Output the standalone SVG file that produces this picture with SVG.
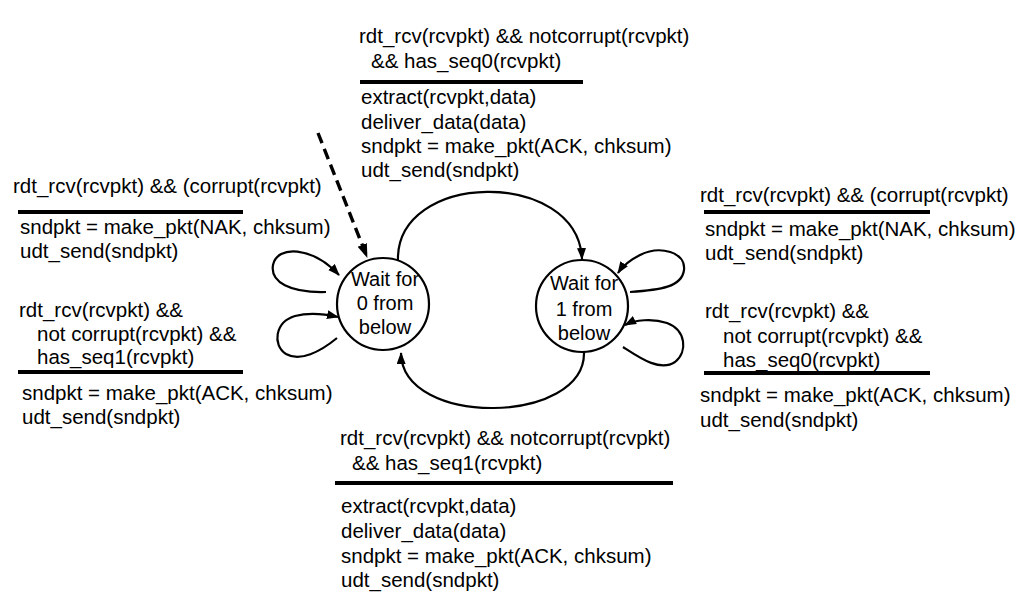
<svg xmlns="http://www.w3.org/2000/svg" width="1032" height="604" viewBox="0 0 1032 604">
<style>
text{font-family:"Liberation Sans",Arial,sans-serif;font-size:20.5px;fill:#000}
.st{font-size:20px;text-anchor:middle}
.bar{stroke:#000;stroke-width:4}
.c{fill:#fff;stroke:#000;stroke-width:2.2}
.e{fill:none;stroke:#000;stroke-width:2.2;marker-end:url(#ah)}
.d{fill:none;stroke:#000;stroke-width:3.4;stroke-dasharray:11,6;marker-end:url(#ah2)}
</style>
<defs>
<marker id="ah" markerUnits="userSpaceOnUse" markerWidth="12" markerHeight="10" refX="11" refY="4.5" orient="auto"><path d="M0,0 L12,4.5 L0,9 z" fill="#000"/></marker>
<marker id="ah2" markerUnits="userSpaceOnUse" markerWidth="14" markerHeight="12" refX="13" refY="5" orient="auto"><path d="M0,0 L14,5 L0,10 z" fill="#000"/></marker>
</defs>
<rect width="1032" height="604" fill="#fff"/>
<g id="connectors">
<path class="d" d="M318,133 L367,257"/>
<path class="e" d="M398,262 C394,170 578,168 582,259"/>
<path class="e" d="M584,352 C586,425 402,428 401,353"/>
<path class="e" d="M326,292 C290,293 270,282 273,265 C277,245 312,246 339,275"/>
<path class="e" d="M337,338 C320,352 300,362 286,354 C272,345 275,322 295,316 C310,312 325,314 338,317"/>
<path class="e" d="M630,292 C660,290 682,287 684,270 C686,252 660,245 640,255 C630,260 622,267 618,273"/>
<path class="e" d="M623,347 C640,358 660,372 675,362 C688,352 686,330 667,323 C652,318 635,320 625,325"/>
</g>
<g id="state0">
<circle class="c" cx="383" cy="304" r="46"/>
<text class="st" x="385" y="286">Wait for</text>
<text class="st" x="385" y="310">0 from</text>
<text class="st" x="385" y="334">below</text>
</g>
<g id="state1">
<circle class="c" cx="582" cy="306" r="46"/>
<text class="st" x="584" y="290">Wait for</text>
<text class="st" x="584" y="316">1 from</text>
<text class="st" x="584" y="340">below</text>
</g>
<g id="label-top">
<text x="359" y="43">rdt_rcv(rcvpkt) &amp;&amp; notcorrupt(rcvpkt)</text>
<text x="371" y="68">&amp;&amp; has_seq0(rcvpkt)</text>
<line class="bar" x1="360" y1="82" x2="583" y2="82"/>
<text x="361" y="104">extract(rcvpkt,data)</text>
<text x="361" y="129">deliver_data(data)</text>
<text x="361" y="153">sndpkt = make_pkt(ACK, chksum)</text>
<text x="361" y="177">udt_send(sndpkt)</text>
</g>
<g id="label-left">
<text x="13" y="193">rdt_rcv(rcvpkt) &amp;&amp; (corrupt(rcvpkt)</text>
<line class="bar" x1="18" y1="212" x2="243" y2="212"/>
<text x="20" y="234">sndpkt = make_pkt(NAK, chksum)</text>
<text x="20" y="258">udt_send(sndpkt)</text>
<text x="19" y="317">rdt_rcv(rcvpkt) &amp;&amp;</text>
<text x="37" y="341">not corrupt(rcvpkt) &amp;&amp;</text>
<text x="37" y="364">has_seq1(rcvpkt)</text>
<line class="bar" x1="18" y1="372" x2="243" y2="372"/>
<text x="22" y="400">sndpkt = make_pkt(ACK, chksum)</text>
<text x="22" y="424">udt_send(sndpkt)</text>
</g>
<g id="label-right">
<text x="700" y="202">rdt_rcv(rcvpkt) &amp;&amp; (corrupt(rcvpkt)</text>
<line class="bar" x1="704" y1="212" x2="930" y2="212"/>
<text x="705" y="236">sndpkt = make_pkt(NAK, chksum)</text>
<text x="705" y="260">udt_send(sndpkt)</text>
<text x="705" y="318">rdt_rcv(rcvpkt) &amp;&amp;</text>
<text x="723" y="343">not corrupt(rcvpkt) &amp;&amp;</text>
<text x="723" y="367">has_seq0(rcvpkt)</text>
<line class="bar" x1="704" y1="373" x2="930" y2="373"/>
<text x="700" y="402">sndpkt = make_pkt(ACK, chksum)</text>
<text x="700" y="427">udt_send(sndpkt)</text>
</g>
<g id="label-bottom">
<text x="340" y="445">rdt_rcv(rcvpkt) &amp;&amp; notcorrupt(rcvpkt)</text>
<text x="352" y="470">&amp;&amp; has_seq1(rcvpkt)</text>
<line class="bar" x1="335" y1="483" x2="673" y2="483"/>
<text x="341" y="513">extract(rcvpkt,data)</text>
<text x="341" y="538">deliver_data(data)</text>
<text x="341" y="563">sndpkt = make_pkt(ACK, chksum)</text>
<text x="341" y="587">udt_send(sndpkt)</text>
</g>
</svg>
